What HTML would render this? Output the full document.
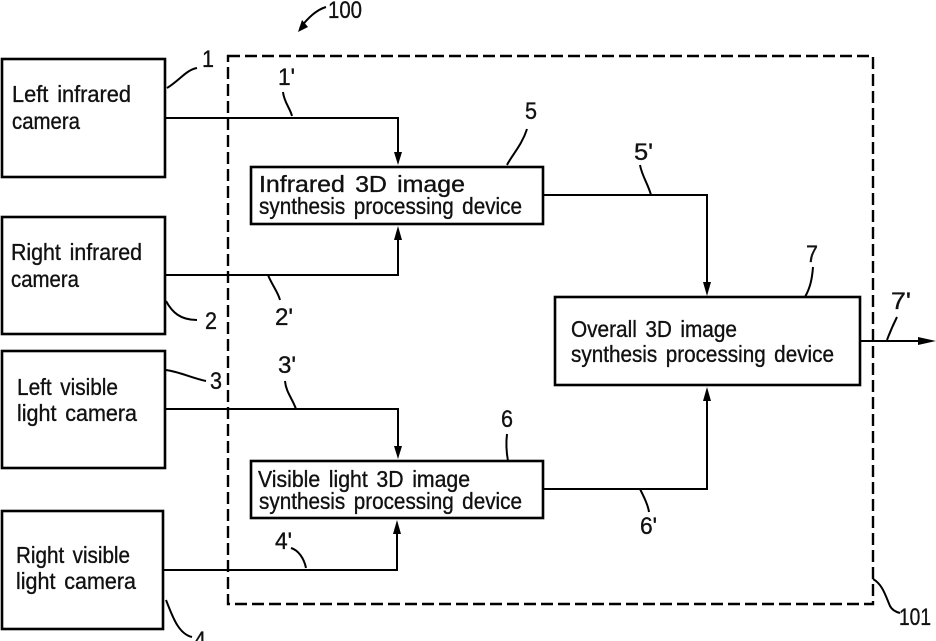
<!DOCTYPE html>
<html>
<head>
<meta charset="utf-8">
<style>
html,body{margin:0;padding:0;background:#fff;overflow:hidden;}
svg{display:block;}
text{font-family:"Liberation Sans",sans-serif;font-size:23px;fill:#111;stroke:#111;stroke-width:.35px;word-spacing:3px;}
.n{font-size:24px;}
</style>
</head>
<body>
<svg width="936" height="641" viewBox="0 0 936 641" xmlns="http://www.w3.org/2000/svg">
<g fill="none" stroke="#000">
<rect x="228" y="56" width="645" height="548" stroke-width="2.4" stroke-dasharray="12 5"/>
<g stroke-width="2.6">
<rect x="2" y="59" width="163" height="118"/>
<rect x="2" y="217" width="163" height="117"/>
<rect x="2" y="351" width="163" height="117"/>
<rect x="2" y="511" width="161" height="118"/>
<rect x="251" y="167" width="292" height="57"/>
<rect x="251" y="461" width="292" height="57"/>
<rect x="555" y="297" width="305" height="88"/>
</g>
<g stroke-width="2">
<path d="M165 118H398V160"/>
<path d="M165 275H398V232"/>
<path d="M165 409H398V453"/>
<path d="M163 570H397V526"/>
<path d="M543 195H707V289"/>
<path d="M543 489H707V393"/>
<path d="M860 341H925"/>
<path d="M167 88C180 80 186 70 197 68"/>
<path d="M166 301C172 312 180 320 197 320"/>
<path d="M166 370C180 372 192 378 206 381"/>
<path d="M166 600C172 615 178 634 192 637"/>
<path d="M507 165C512 155 522 145 527 129"/>
<path d="M508 461C506 450 506 442 507 434"/>
<path d="M805 297C810 288 812 280 813 267"/>
<path d="M873 579C882 584 885 594 890 606C892 610 896 612 900 613"/>
<path d="M292 116C290 108 284 102 283 92"/>
<path d="M268 275C272 285 278 292 280 300"/>
<path d="M296 409C292 398 286 392 285 381"/>
<path d="M306 568C304 558 298 550 291 548"/>
<path d="M651 195C648 184 642 176 640 165"/>
<path d="M640 489C644 497 648 505 649 512"/>
<path d="M887 340C890 332 893 325 897 317"/>
<path d="M300 28C308 18 316 10 326 7"/>
</g>
</g>
<g fill="#000">
<polygon points="394,152 402,152 398,165"/>
<polygon points="394,240 402,240 398,226"/>
<polygon points="394,446 402,446 398,459"/>
<polygon points="393,534 401,534 397,520"/>
<polygon points="703,282 711,282 707,296"/>
<polygon points="703,401 711,401 707,387"/>
<polygon points="918,337 936,341 918,345"/>
<polygon points="298,32 308,27 302,20"/>
</g>
<g>
<text x="12" y="102" textLength="119" lengthAdjust="spacingAndGlyphs">Left infrared</text>
<text x="12" y="129" textLength="68" lengthAdjust="spacingAndGlyphs">camera</text>
<text x="11" y="260" textLength="131" lengthAdjust="spacingAndGlyphs">Right infrared</text>
<text x="11" y="287" textLength="68" lengthAdjust="spacingAndGlyphs">camera</text>
<text x="17" y="395" textLength="101" lengthAdjust="spacingAndGlyphs">Left visible</text>
<text x="17" y="421" textLength="120" lengthAdjust="spacingAndGlyphs">light camera</text>
<text x="16" y="563" textLength="114" lengthAdjust="spacingAndGlyphs">Right visible</text>
<text x="16" y="589" textLength="120" lengthAdjust="spacingAndGlyphs">light camera</text>
<text x="259" y="192" textLength="206" lengthAdjust="spacingAndGlyphs">Infrared 3D image</text>
<text x="259" y="214" textLength="263" lengthAdjust="spacingAndGlyphs">synthesis processing device</text>
<text x="258" y="487" textLength="212" lengthAdjust="spacingAndGlyphs">Visible light 3D image</text>
<text x="259" y="509" textLength="263" lengthAdjust="spacingAndGlyphs">synthesis processing device</text>
<text x="571" y="337" textLength="166" lengthAdjust="spacingAndGlyphs">Overall 3D image</text>
<text x="571" y="362" textLength="263" lengthAdjust="spacingAndGlyphs">synthesis processing device</text>
<text class="n" x="202" y="67" textLength="12" lengthAdjust="spacingAndGlyphs">1</text>
<text class="n" x="205" y="329" textLength="12" lengthAdjust="spacingAndGlyphs">2</text>
<text class="n" x="210" y="389" textLength="12" lengthAdjust="spacingAndGlyphs">3</text>
<text class="n" x="194" y="648" textLength="12" lengthAdjust="spacingAndGlyphs">4</text>
<text class="n" x="525" y="119" textLength="12" lengthAdjust="spacingAndGlyphs">5</text>
<text class="n" x="501" y="427" textLength="12" lengthAdjust="spacingAndGlyphs">6</text>
<text class="n" x="806" y="262" textLength="12" lengthAdjust="spacingAndGlyphs">7</text>
<text class="n" x="278" y="85" textLength="17" lengthAdjust="spacingAndGlyphs">1'</text>
<text class="n" x="275" y="325" textLength="18" lengthAdjust="spacingAndGlyphs">2'</text>
<text class="n" x="278" y="373" textLength="18" lengthAdjust="spacingAndGlyphs">3'</text>
<text class="n" x="275" y="549" textLength="17" lengthAdjust="spacingAndGlyphs">4'</text>
<text class="n" x="634" y="160" textLength="19" lengthAdjust="spacingAndGlyphs">5'</text>
<text class="n" x="640" y="534" textLength="17" lengthAdjust="spacingAndGlyphs">6'</text>
<text class="n" x="891" y="309" textLength="20" lengthAdjust="spacingAndGlyphs">7'</text>
<text class="n" x="328" y="18" textLength="34" lengthAdjust="spacingAndGlyphs">100</text>
<text class="n" x="899" y="625" textLength="32" lengthAdjust="spacingAndGlyphs">101</text>
</g>
</svg>
</body>
</html>
